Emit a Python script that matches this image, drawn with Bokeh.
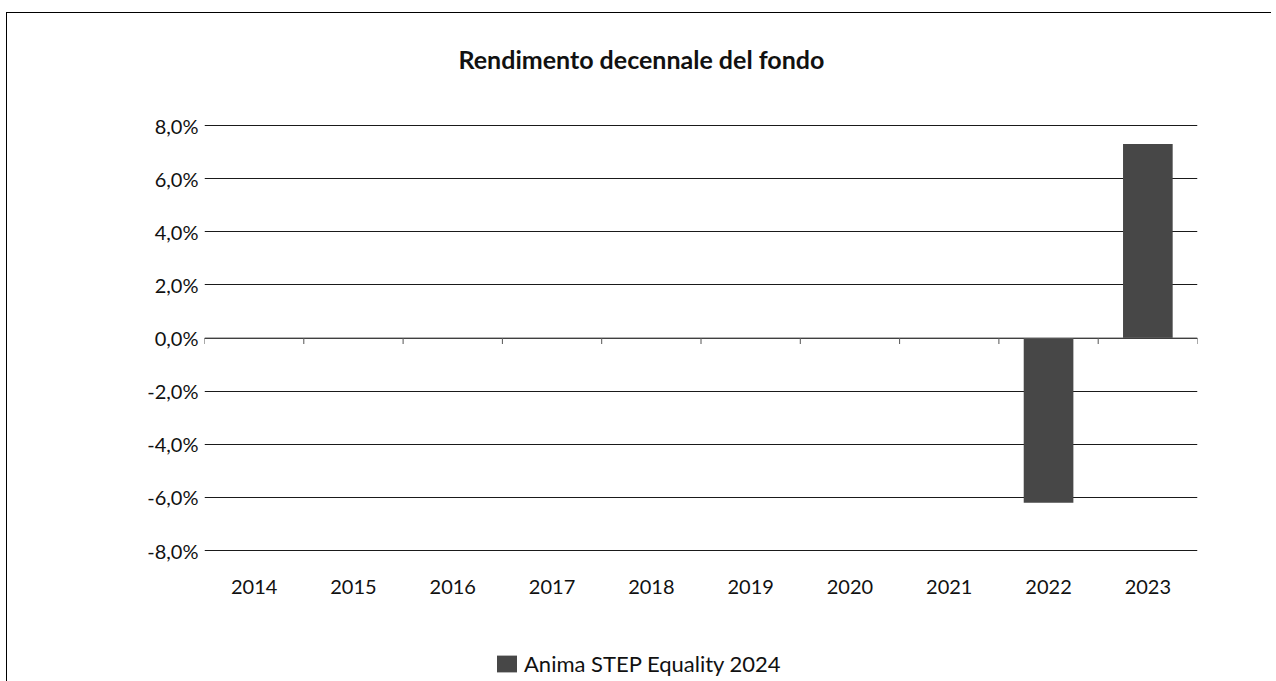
from bokeh.plotting import figure
from bokeh.models import FixedTicker, Legend, LegendItem, LinearAxis, Range1d, Span, Label
from bokeh.core.properties import value
from bokeh.embed import file_html
from bokeh.resources import INLINE

years = ["2014", "2015", "2016", "2017", "2018", "2019", "2020", "2021", "2022", "2023"]
returns = [None, None, None, None, None, None, None, None, -6.2, 7.3]
y_ticks = [-8, -6, -4, -2, 0, 2, 4, 6, 8]
y_labels = ["-8,0%", "-6,0%", "-4,0%", "-2,0%", "0,0%", "2,0%", "4,0%", "6,0%", "8,0%"]
series_name = "Anima STEP Equality 2024"
title_text = "Rendimento decennale del fondo"

FONT = "Lato"
BAR = "#474747"
TXT = "#111111"

# layout (pixels)
PX_PER_UNIT = 425 / 16.0
TOP_PAD = 112      # frame top -> 8% line
BOT_PAD = 132      # -8% line -> frame bottom
y_lo = y_ticks[0] - BOT_PAD / PX_PER_UNIT
y_hi = y_ticks[-1] + TOP_PAD / PX_PER_UNIT

xs = list(range(len(years)))
bx = [x for x, v in zip(xs, returns) if v is not None]
bv = [v for v in returns if v is not None]
bounds = [x - 0.5 for x in xs] + [len(xs) - 0.5]

p = figure(width=1265, height=669, output_backend="svg", toolbar_location=None,
           x_range=Range1d(-0.5, len(years) - 0.5), y_range=Range1d(y_lo, y_hi),
           min_border_left=197, min_border_right=75, min_border_top=0, min_border_bottom=0,
           x_axis_location=None, y_axis_location=None, title=None)
p.margin = (12, 0, 0, 6)
p.styles = {"border-left": "1px solid black", "border-top": "1px solid black"}
p.outline_line_color = None
p.background_fill_color = "white"
p.border_fill_color = "white"

# y axis (labels only)
yax = LinearAxis(ticker=FixedTicker(ticks=y_ticks),
                 major_label_overrides={t: l for t, l in zip(y_ticks, y_labels)})
yax.axis_line_color = None
yax.major_tick_line_color = None
yax.minor_tick_line_color = None
yax.major_label_standoff = 0
yax.major_label_text_font = FONT
yax.major_label_text_font_size = "20px"
yax.major_label_text_color = TXT
p.add_layout(yax, "left")

p.ygrid.ticker = FixedTicker(ticks=y_ticks)
p.ygrid.grid_line_color = "#1a1a1a"
p.ygrid.grid_line_width = 1
p.xgrid.grid_line_color = None

# zero line + category boundary ticks
p.add_layout(Span(location=0, dimension="width", line_color="#666666", line_width=1))
p.segment(x0=bounds, y0=[0] * len(bounds), x1=bounds,
          y1=[-6 / PX_PER_UNIT] * len(bounds), line_color="#555555", line_width=1)

# bars
r = p.vbar(x=bx, top=bv, bottom=0, width=0.5, fill_color=BAR, line_color=None)

# category labels below the -8% line
p.text(x=xs, y=[y_ticks[0]] * len(xs), text=years, y_offset=36,
       text_align="center", text_baseline="middle",
       text_font=value(FONT), text_font_size="20px", text_color=TXT)

# title
p.add_layout(Label(x=3.9, y=y_ticks[-1] + 67 / PX_PER_UNIT, text=title_text,
                   text_align="center", text_baseline="middle",
                   text_font=FONT, text_font_size="25px", text_font_style="bold",
                   text_color=TXT))

legend = Legend(items=[LegendItem(label=series_name, renderers=[r])],
                location=(290, 5), orientation="horizontal")
legend.border_line_color = None
legend.background_fill_alpha = 0
legend.padding = 0
legend.margin = 0
legend.glyph_width = 25
legend.glyph_height = 21
legend.label_standoff = 5
legend.label_text_font = FONT
legend.label_text_font_size = "22px"
legend.label_text_color = TXT
p.add_layout(legend, "center")

open("out.html", "w").write(file_html(p, INLINE))
